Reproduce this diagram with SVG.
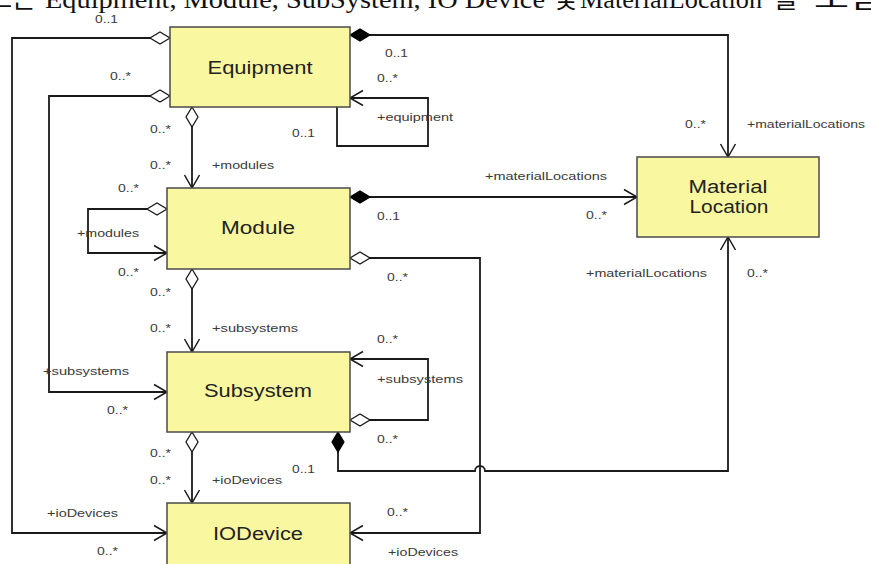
<svg xmlns="http://www.w3.org/2000/svg" width="871" height="564" viewBox="0 0 871 564">
<style>
.box{fill:#FAF7A1;stroke:#4a4a4a;stroke-width:1.5}
.name{font-family:"Liberation Sans",Arial,sans-serif;font-size:17.5px;fill:#222;text-anchor:middle}
.lbl{font-family:"Liberation Sans",Arial,sans-serif;font-size:11px;fill:#3a3a3a}
.ttl{font-family:"Liberation Serif","Noto Sans CJK KR",serif;font-size:26px;fill:#111}
.c{fill:none;stroke:#1a1a1a;stroke-width:1.8}
</style>
<defs>
<marker id="arr" markerUnits="userSpaceOnUse" markerWidth="20" markerHeight="20" viewBox="-15 -10 17 20" refX="0" refY="0" orient="auto" overflow="visible">
<path d="M-13,-7.5 L0,0 L-13,7.5" fill="none" stroke="#1a1a1a" stroke-width="1.5"/>
</marker>
<marker id="od" markerUnits="userSpaceOnUse" markerWidth="24" markerHeight="16" viewBox="-1 -8 23 16" refX="0" refY="0" orient="auto" overflow="visible">
<path d="M0,0 L10,-6 L20,0 L10,6 Z" fill="#fff" stroke="#1a1a1a" stroke-width="1.3"/>
</marker>
<marker id="fd" markerUnits="userSpaceOnUse" markerWidth="24" markerHeight="16" viewBox="-1 -8 23 16" refX="0" refY="0" orient="auto" overflow="visible">
<path d="M0,0 L10,-6 L20,0 L10,6 Z" fill="#000" stroke="#000" stroke-width="1.2"/>
</marker>
</defs>
<rect width="871" height="564" fill="#fff"/>
<g id="title">
<text class="ttl" x="36" y="8" text-anchor="end">클래스는</text>
<text class="ttl" x="45" y="8" textLength="500" lengthAdjust="spacingAndGlyphs">Equipment, Module, SubSystem, IO Device</text>
<text class="ttl" x="553" y="8">및</text>
<text class="ttl" x="580" y="8" textLength="182" lengthAdjust="spacingAndGlyphs">MaterialLocation</text>
<text class="ttl" x="774" y="8">를</text>
<text class="ttl" x="814" y="8" textLength="70" lengthAdjust="spacingAndGlyphs">포함</text>
</g>
<g id="connectors">
<path class="c" d="M350,35 H728 V157" marker-start="url(#fd)" marker-end="url(#arr)"/>
<path class="c" d="M170,38 H12 V533 H167" marker-start="url(#od)" marker-end="url(#arr)"/>
<path class="c" d="M170,96 H49 V392 H167" marker-start="url(#od)" marker-end="url(#arr)"/>
<path class="c" d="M192,107 V188" marker-start="url(#od)" marker-end="url(#arr)"/>
<path class="c" d="M337,107 V146 H428 V98 H350" marker-end="url(#arr)"/>
<path class="c" d="M350,197 H637" marker-start="url(#fd)" marker-end="url(#arr)"/>
<path class="c" d="M167,209 H88 V253 H167" marker-start="url(#od)" marker-end="url(#arr)"/>
<path class="c" d="M192,269 V352" marker-start="url(#od)" marker-end="url(#arr)"/>
<path class="c" d="M350,258 H480 V533 H350" marker-start="url(#od)" marker-end="url(#arr)"/>
<path class="c" d="M350,420 H428 V359 H350" marker-start="url(#od)" marker-end="url(#arr)"/>
<path class="c" d="M338,432 V471 H475 A5,5 0 0 1 485,471 H728 V237" marker-start="url(#fd)" marker-end="url(#arr)"/>
<path class="c" d="M192,432 V503" marker-start="url(#od)" marker-end="url(#arr)"/>
</g>
<g id="Equipment">
<rect class="box" x="170" y="27" width="180" height="80"/>
<text class="name" x="260" y="74" textLength="105" lengthAdjust="spacingAndGlyphs">Equipment</text>
</g>
<g id="Module">
<rect class="box" x="167" y="188" width="183" height="81"/>
<text class="name" x="258" y="234" textLength="74" lengthAdjust="spacingAndGlyphs">Module</text>
</g>
<g id="Subsystem">
<rect class="box" x="167" y="352" width="183" height="80"/>
<text class="name" x="258" y="397" textLength="108" lengthAdjust="spacingAndGlyphs">Subsystem</text>
</g>
<g id="IODevice">
<rect class="box" x="167" y="503" width="183" height="80"/>
<text class="name" x="258" y="540" textLength="90" lengthAdjust="spacingAndGlyphs">IODevice</text>
</g>
<g id="MaterialLocation">
<rect class="box" x="637" y="157" width="182" height="80"/>
<text class="name" x="728" y="193" textLength="79" lengthAdjust="spacingAndGlyphs">Material</text>
<text class="name" x="729" y="213" textLength="79" lengthAdjust="spacingAndGlyphs">Location</text>
</g>
<g id="labels">
<text class="lbl" x="95" y="23" textLength="23" lengthAdjust="spacingAndGlyphs">0..1</text>
<text class="lbl" x="385" y="57" textLength="23" lengthAdjust="spacingAndGlyphs">0..1</text>
<text class="lbl" x="377" y="82" textLength="21" lengthAdjust="spacingAndGlyphs">0..*</text>
<text class="lbl" x="377" y="121" textLength="76" lengthAdjust="spacingAndGlyphs">+equipment</text>
<text class="lbl" x="292" y="137" textLength="23" lengthAdjust="spacingAndGlyphs">0..1</text>
<text class="lbl" x="110" y="80" textLength="21" lengthAdjust="spacingAndGlyphs">0..*</text>
<text class="lbl" x="150" y="133" textLength="21" lengthAdjust="spacingAndGlyphs">0..*</text>
<text class="lbl" x="150" y="169" textLength="21" lengthAdjust="spacingAndGlyphs">0..*</text>
<text class="lbl" x="212" y="169" textLength="62" lengthAdjust="spacingAndGlyphs">+modules</text>
<text class="lbl" x="685" y="128" textLength="21" lengthAdjust="spacingAndGlyphs">0..*</text>
<text class="lbl" x="747" y="128" textLength="118" lengthAdjust="spacingAndGlyphs">+materialLocations</text>
<text class="lbl" x="485" y="180" textLength="122" lengthAdjust="spacingAndGlyphs">+materialLocations</text>
<text class="lbl" x="377" y="220" textLength="23" lengthAdjust="spacingAndGlyphs">0..1</text>
<text class="lbl" x="586" y="219" textLength="21" lengthAdjust="spacingAndGlyphs">0..*</text>
<text class="lbl" x="118" y="192" textLength="21" lengthAdjust="spacingAndGlyphs">0..*</text>
<text class="lbl" x="77" y="237" textLength="62" lengthAdjust="spacingAndGlyphs">+modules</text>
<text class="lbl" x="118" y="276" textLength="21" lengthAdjust="spacingAndGlyphs">0..*</text>
<text class="lbl" x="387" y="281" textLength="21" lengthAdjust="spacingAndGlyphs">0..*</text>
<text class="lbl" x="150" y="296" textLength="21" lengthAdjust="spacingAndGlyphs">0..*</text>
<text class="lbl" x="150" y="332" textLength="21" lengthAdjust="spacingAndGlyphs">0..*</text>
<text class="lbl" x="212" y="332" textLength="86" lengthAdjust="spacingAndGlyphs">+subsystems</text>
<text class="lbl" x="377" y="343" textLength="21" lengthAdjust="spacingAndGlyphs">0..*</text>
<text class="lbl" x="377" y="383" textLength="86" lengthAdjust="spacingAndGlyphs">+subsystems</text>
<text class="lbl" x="377" y="443" textLength="21" lengthAdjust="spacingAndGlyphs">0..*</text>
<text class="lbl" x="43" y="375" textLength="86" lengthAdjust="spacingAndGlyphs">+subsystems</text>
<text class="lbl" x="107" y="414" textLength="21" lengthAdjust="spacingAndGlyphs">0..*</text>
<text class="lbl" x="292" y="473" textLength="23" lengthAdjust="spacingAndGlyphs">0..1</text>
<text class="lbl" x="586" y="277" textLength="121" lengthAdjust="spacingAndGlyphs">+materialLocations</text>
<text class="lbl" x="747" y="277" textLength="21" lengthAdjust="spacingAndGlyphs">0..*</text>
<text class="lbl" x="150" y="457" textLength="21" lengthAdjust="spacingAndGlyphs">0..*</text>
<text class="lbl" x="150" y="484" textLength="21" lengthAdjust="spacingAndGlyphs">0..*</text>
<text class="lbl" x="212" y="484" textLength="70" lengthAdjust="spacingAndGlyphs">+ioDevices</text>
<text class="lbl" x="47" y="517" textLength="71" lengthAdjust="spacingAndGlyphs">+ioDevices</text>
<text class="lbl" x="97" y="555" textLength="21" lengthAdjust="spacingAndGlyphs">0..*</text>
<text class="lbl" x="387" y="516" textLength="21" lengthAdjust="spacingAndGlyphs">0..*</text>
<text class="lbl" x="388" y="556" textLength="70" lengthAdjust="spacingAndGlyphs">+ioDevices</text>
</g>
</svg>
